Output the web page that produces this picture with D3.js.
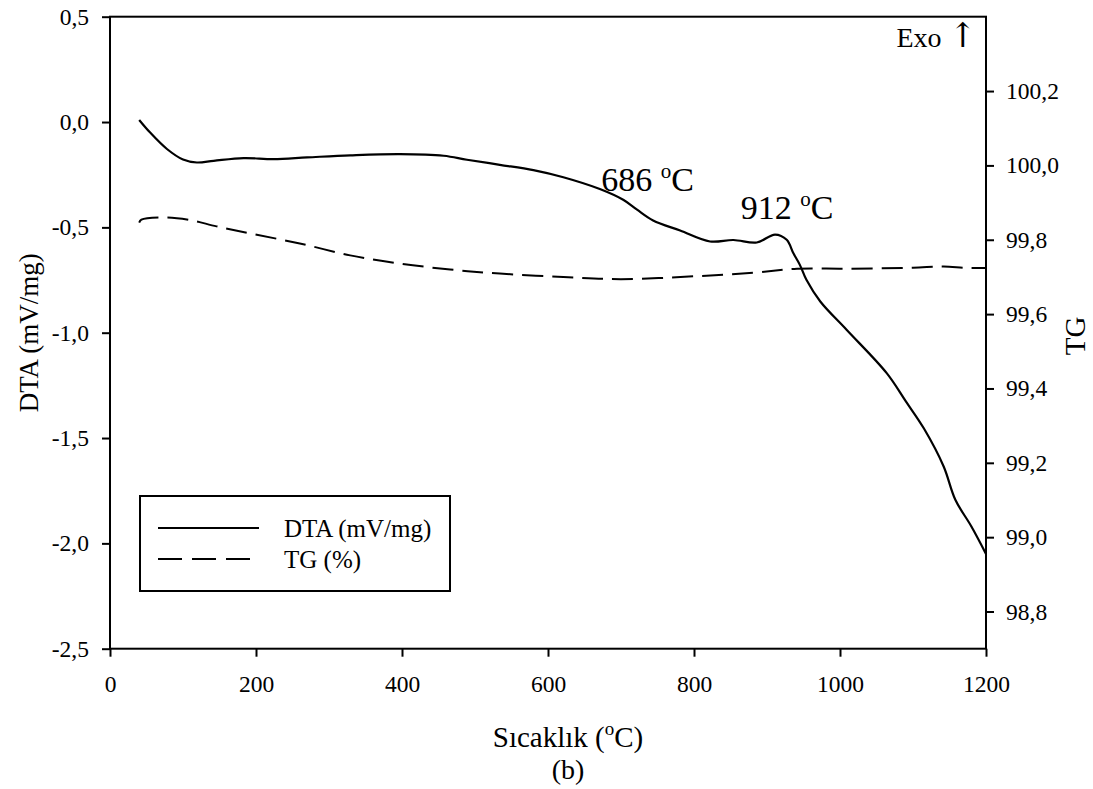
<!DOCTYPE html>
<html>
<head>
<meta charset="utf-8">
<script src="https://cdn.jsdelivr.net/npm/d3@7"></script>
<style>
  body { margin: 0; background: #fff; }
  svg text { font-family: "Liberation Serif", "Times New Roman", serif; fill: #000; }
</style>
</head>
<body>
<svg id="chart" width="1093" height="789"></svg>
<script>
// DTA curve (temperature in C, mV/mg)
var dtaTemp = [40, 55, 78, 100, 119, 142, 183, 224, 270, 329, 397, 457, 489, 534, 580, 621, 671, 703, 722, 744, 781, 822, 854, 886, 911, 927, 936, 945, 954, 973, 1009, 1064, 1090, 1115, 1142, 1158, 1180, 1200];
var dtaValues = [0.01, -0.05, -0.128, -0.178, -0.192, -0.184, -0.171, -0.176, -0.168, -0.158, -0.152, -0.160, -0.179, -0.203, -0.228, -0.262, -0.318, -0.369, -0.416, -0.467, -0.515, -0.567, -0.560, -0.572, -0.534, -0.559, -0.622, -0.678, -0.749, -0.852, -0.986, -1.192, -1.325, -1.455, -1.635, -1.793, -1.920, -2.05];

// TG curve (temperature in C, %)
var tgTemp = [40, 43, 78, 110, 146, 192, 260, 329, 397, 466, 534, 621, 700, 803, 881, 941, 1009, 1100, 1142, 1173, 1200];
var tgValues = [99.846, 99.854, 99.860, 99.853, 99.836, 99.817, 99.790, 99.758, 99.736, 99.720, 99.709, 99.700, 99.694, 99.702, 99.711, 99.722, 99.722, 99.725, 99.728, 99.724, 99.724];

var xTicks = [0, 200, 400, 600, 800, 1000, 1200];
var dtaTicks = [-2.5, -2.0, -1.5, -1.0, -0.5, 0.0, 0.5];
var tgTicks = [98.8, 99.0, 99.2, 99.4, 99.6, 99.8, 100.0, 100.2];

var legendLabels = ["DTA (mV/mg)", "TG (%)"];
var peakLabels = ["686", "912"];

var svg = d3.select('#chart');
var plotL = 110, plotR = 986, plotT = 16.7, plotB = 648.7;
var serif = '"Liberation Serif", "Times New Roman", serif';

var x = d3.scaleLinear().domain([0, 1200]).range([plotL, plotR]);
var yDta = d3.scaleLinear().domain([-2.5, 0.5]).range([plotB, plotT]);
var yTg = d3.scaleLinear().domain([98.7, 100.4]).range([plotB, plotT]);

var trLocale = d3.formatLocale({decimal: ",", thousands: ".", grouping: [3], currency: ["", ""], minus: "-"});
var fmt1 = trLocale.format(".1f");

// axes
var gx = svg.append('g')
    .attr('transform', 'translate(0,' + plotB + ')')
    .call(d3.axisBottom(x).tickValues(xTicks).tickFormat(d3.format('d')).tickSize(8).tickSizeOuter(0).tickPadding(19));
var gl = svg.append('g')
    .attr('transform', 'translate(' + plotL + ',0)')
    .call(d3.axisLeft(yDta).tickValues(dtaTicks).tickFormat(fmt1).tickSize(8).tickSizeOuter(0).tickPadding(13));
var gr = svg.append('g')
    .attr('transform', 'translate(' + plotR + ',0)')
    .call(d3.axisRight(yTg).tickValues(tgTicks).tickFormat(fmt1).tickSize(8).tickSizeOuter(0).tickPadding(12));

[gx, gl, gr].forEach(function(g) {
    g.select('.domain').remove();
    g.selectAll('line').attr('stroke', '#000').attr('stroke-width', 2);
    g.selectAll('text').attr('font-family', serif).attr('font-size', 23.5).attr('fill', '#000');
});

// frame
svg.append('rect')
    .attr('x', plotL).attr('y', plotT)
    .attr('width', plotR - plotL).attr('height', plotB - plotT)
    .attr('fill', 'none').attr('stroke', '#000').attr('stroke-width', 2);

// curves
var dtaLine = d3.line()
    .x(function(d, i) { return x(dtaTemp[i]); })
    .y(function(d) { return yDta(d); })
    .curve(d3.curveCatmullRom);
var tgLine = d3.line()
    .x(function(d, i) { return x(tgTemp[i]); })
    .y(function(d) { return yTg(d); })
    .curve(d3.curveCatmullRom);

svg.append('path')
    .attr('d', dtaLine(dtaValues))
    .attr('fill', 'none').attr('stroke', '#000').attr('stroke-width', 2.2);
svg.append('path')
    .attr('d', tgLine(tgValues))
    .attr('fill', 'none').attr('stroke', '#000').attr('stroke-width', 2)
    .attr('stroke-dasharray', '21,9');

// peak annotations
var peakPos = [[x(673), yDta(-0.325)], [x(864), yDta(-0.46)]];
peakLabels.forEach(function(lbl, i) {
    var t = svg.append('text')
        .attr('x', peakPos[i][0]).attr('y', peakPos[i][1])
        .attr('font-size', 34);
    t.append('tspan').text(lbl + ' ');
    t.append('tspan').text('o').attr('font-size', 21).attr('dy', -13);
    t.append('tspan').text('C').attr('dy', 13);
});

var exo = svg.append('text')
    .attr('x', 977).attr('y', 46.7)
    .attr('text-anchor', 'end')
    .attr('font-size', 28);
exo.append('tspan').text('Exo ');
exo.append('tspan').text('\u2191').attr('font-size', 34).attr('font-family', '"DejaVu Serif", serif');

// axis titles
var xt = svg.append('text')
    .attr('x', (plotL + plotR) / 2 + 20).attr('y', 747)
    .attr('text-anchor', 'middle')
    .attr('font-size', 29);
xt.append('tspan').text('S\u0131cakl\u0131k (');
xt.append('tspan').text('o').attr('font-size', 19).attr('dy', -12);
xt.append('tspan').text('C)').attr('dy', 12);

svg.append('text')
    .attr('x', (plotL + plotR) / 2 + 20).attr('y', 779)
    .attr('text-anchor', 'middle')
    .attr('font-size', 28)
    .text('(b)');

svg.append('text')
    .attr('transform', 'translate(38,' + (plotT + plotB) / 2 + ') rotate(-90)')
    .attr('text-anchor', 'middle')
    .attr('font-size', 27)
    .text('DTA (mV/mg)');

svg.append('text')
    .attr('transform', 'translate(1085,336) rotate(-90)')
    .attr('text-anchor', 'middle')
    .attr('font-size', 29)
    .text('TG');

// legend
var lg = svg.append('g');
lg.append('rect')
    .attr('x', 140).attr('y', 496)
    .attr('width', 310).attr('height', 95)
    .attr('fill', '#fff').attr('stroke', '#000').attr('stroke-width', 2);
legendLabels.forEach(function(lbl, i) {
    var yy = 528 + i * 31;
    lg.append('line')
        .attr('x1', 158).attr('x2', i === 0 ? 259 : 250)
        .attr('y1', yy).attr('y2', yy)
        .attr('stroke', '#000').attr('stroke-width', 2)
        .attr('stroke-dasharray', i === 0 ? null : '24,10');
    lg.append('text')
        .attr('x', 284).attr('y', yy + 9)
        .attr('font-size', 25)
        .text(lbl);
});
</script>
</body>
</html>
